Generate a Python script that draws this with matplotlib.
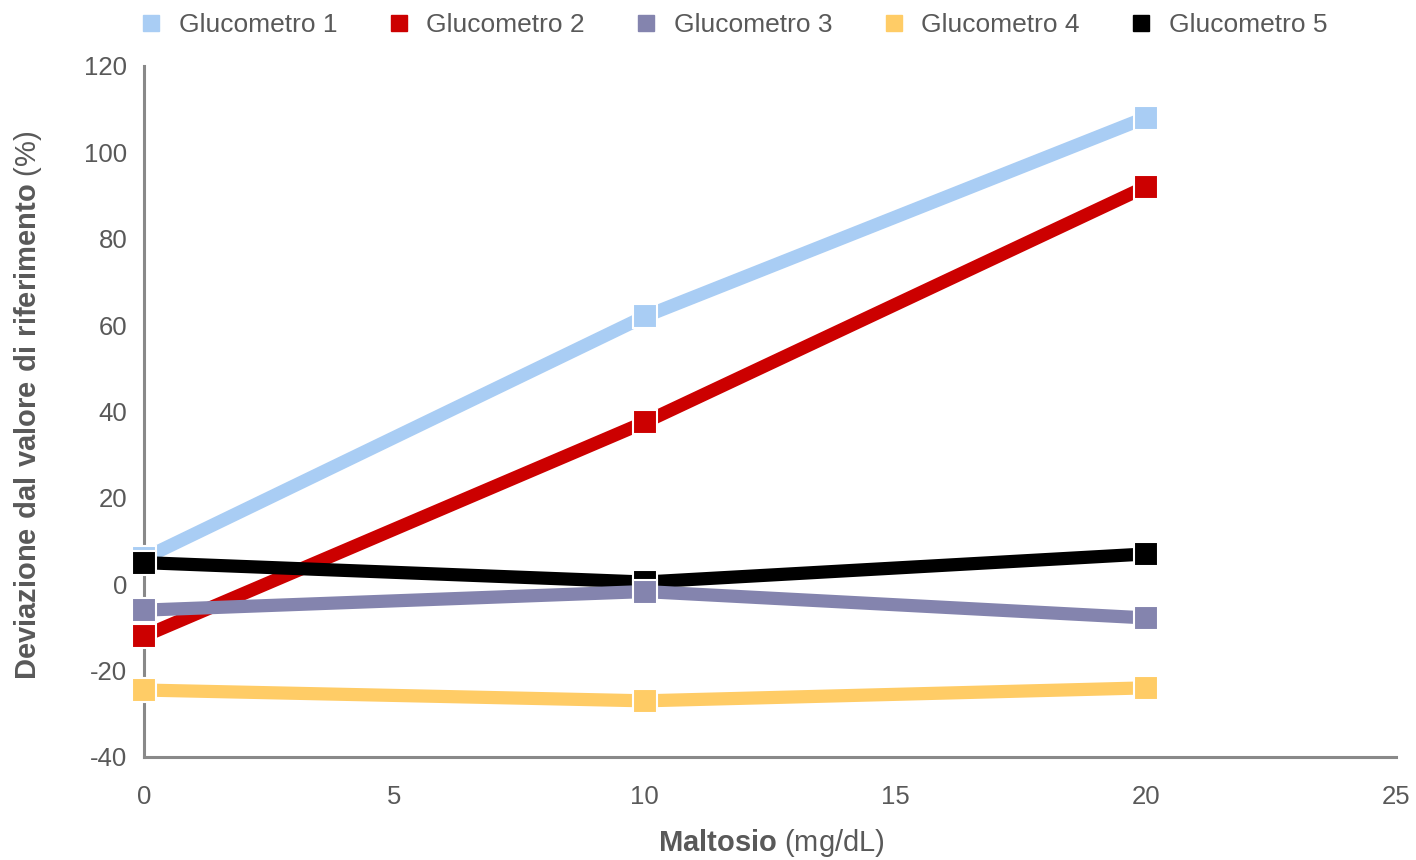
import matplotlib
matplotlib.use("Agg")
import matplotlib.pyplot as plt
from matplotlib.lines import Line2D

plt.rcParams['font.family'] = ['Liberation Sans', 'DejaVu Sans']
plt.rcParams['mathtext.fontset'] = 'custom'
plt.rcParams['mathtext.rm'] = 'Liberation Sans'
plt.rcParams['mathtext.bf'] = 'Liberation Sans:bold'
plt.rcParams['axes.unicode_minus'] = False

# Maltose concentration (mg/dL)
maltosio = [0, 10, 20]

# Deviation from reference value (%) per glucometer
glucometro_1 = [6, 62, 108]
glucometro_2 = [-12, 37.5, 92]
glucometro_3 = [-6, -1.7, -7.8]
glucometro_4 = [-24.5, -27, -24]
glucometro_5 = [5, 0.5, 7]

series_names = ["Glucometro 1", "Glucometro 2", "Glucometro 3",
                "Glucometro 4", "Glucometro 5"]
series_values = [glucometro_1, glucometro_2, glucometro_3,
                 glucometro_4, glucometro_5]
colors = ["#A9CDF4", "#CC0000", "#8484AE", "#FFCC66", "#000000"]
zorders = [2, 3, 5, 6, 4]

x_ticks = [0, 5, 10, 15, 20, 25]
y_ticks = [-40, -20, 0, 20, 40, 60, 80, 100, 120]

text_gray = "#595959"
axis_gray = "#898989"

fig = plt.figure(figsize=(14.16, 8.6), dpi=100)
ax = fig.add_axes([0.1017, 0.1198, 0.8842, 0.8035])

for name, vals, col, z in zip(series_names, series_values, colors, zorders):
    ax.plot(maltosio, vals, color=col, lw=9.5, marker='s', ms=17.5,
            mec='white', mew=1.5, mfc=col, zorder=z, clip_on=False,
            solid_capstyle='butt')

ax.set_xlim(0, 25)
ax.set_ylim(-40, 120)
ax.set_xticks(x_ticks)
ax.set_yticks(y_ticks)
ax.tick_params(axis='both', length=0, labelsize=18.5, labelcolor=text_gray)
ax.tick_params(axis='y', pad=12)
ax.tick_params(axis='x', pad=20)

for side in ['top', 'right']:
    ax.spines[side].set_visible(False)
for side in ['left', 'bottom']:
    ax.spines[side].set_color(axis_gray)
    ax.spines[side].set_linewidth(2.2)
    ax.spines[side].set_zorder(1)

fig.text(0.545, 0.0015, r"$\bf{Maltosio}$ (mg/dL)", ha='center', va='bottom',
         fontsize=21, color=text_gray)
fig.text(0.02, 0.529, r"$\bf{Deviazione\ dal\ valore\ di\ riferimento}$ (%)",
         rotation=90, ha='center', va='center', fontsize=21, color=text_gray)

handles = [Line2D([], [], ls='none', marker='s', ms=11, mfc=c, mec=c)
           for c in colors]
fig.legend(handles, series_names, loc='upper left', ncol=5,
           bbox_to_anchor=(0.089, 1.0), borderaxespad=0.1, frameon=False,
           fontsize=19, labelcolor=text_gray, handlelength=0.9,
           handletextpad=0.6, columnspacing=1.87)

fig.savefig("out.png", dpi=100)
